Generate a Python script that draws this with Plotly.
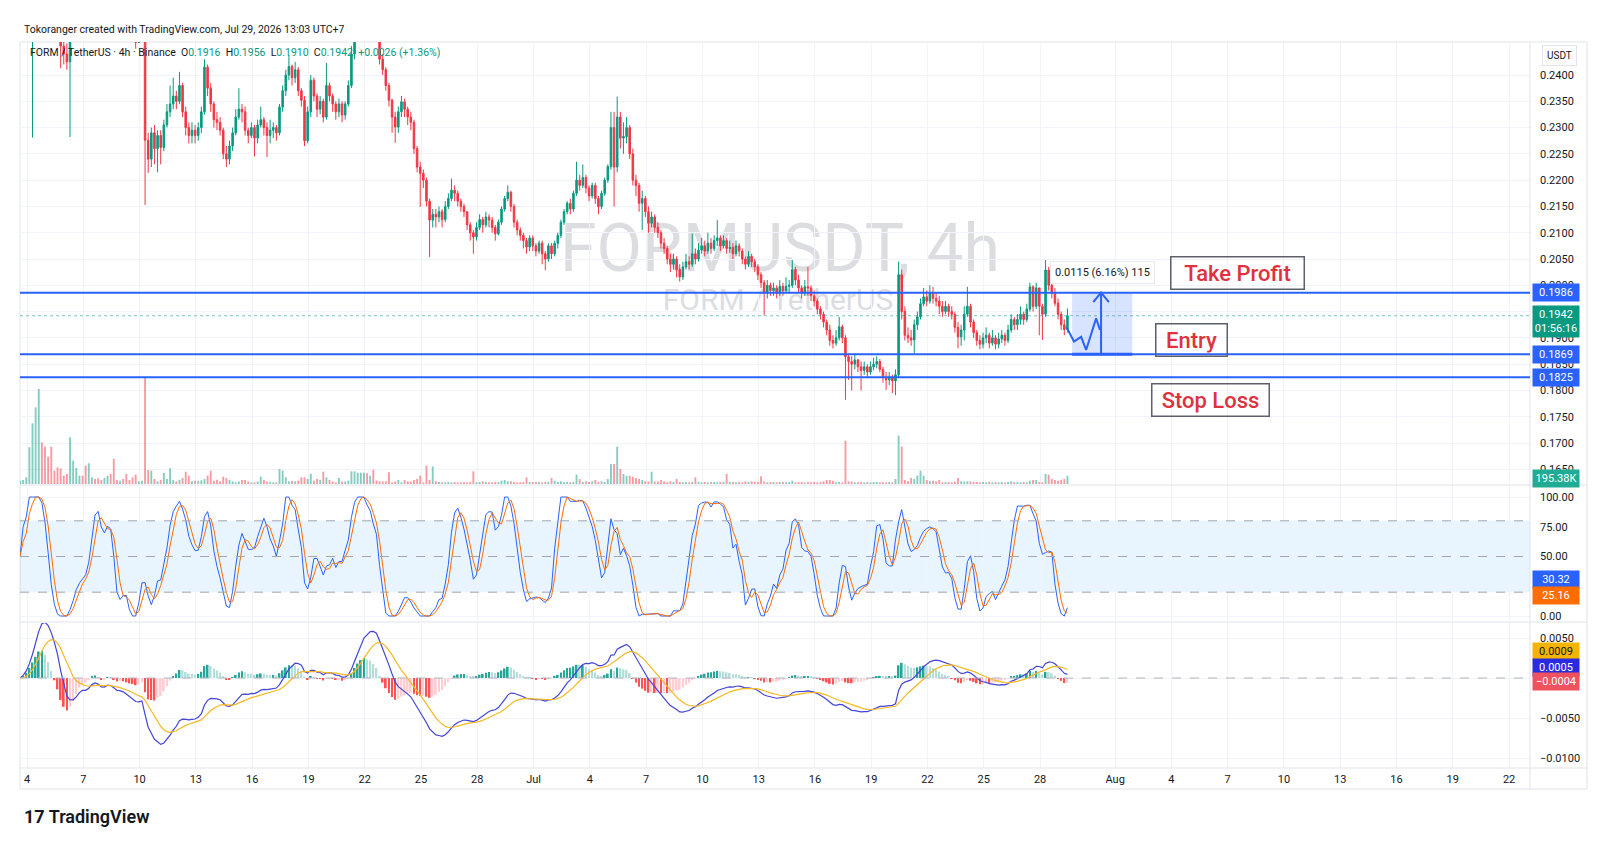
import numpy as np
import pandas as pd
import plotly.graph_objects as go
from plotly.subplots import make_subplots

# ---------------- data (FORM/USDT 4h, Binance) ----------------
first_time = "2026-06-03 15:00"
first_open = 0.2540

close = [
    0.2560, 0.2600, 0.2640, 0.2700, 0.2760, 0.2820, 0.2880, 0.2860, 0.2800, 0.2740,
    0.2680, 0.2620, 0.2560, 0.2455, 0.2440, 0.2425, 0.2510, 0.2550, 0.2590, 0.2620,
    0.2600, 0.2570, 0.2600, 0.2630, 0.2610, 0.2570, 0.2540, 0.2570, 0.2600, 0.2570,
    0.2540, 0.2520, 0.2550, 0.2530, 0.2510, 0.2495, 0.2490, 0.2462, 0.2490, 0.2505,
    0.2276, 0.2240, 0.2290, 0.2260, 0.2285, 0.2262, 0.2305, 0.2330, 0.2345, 0.2360,
    0.2350, 0.2380, 0.2330, 0.2300, 0.2285, 0.2295, 0.2285, 0.2300, 0.2330, 0.2415,
    0.2375, 0.2345, 0.2315, 0.2310, 0.2295, 0.2250, 0.2240, 0.2265, 0.2290, 0.2320,
    0.2335, 0.2330, 0.2295, 0.2285, 0.2300, 0.2280, 0.2305, 0.2315, 0.2300, 0.2285,
    0.2295, 0.2300, 0.2290, 0.2339, 0.2370, 0.2400, 0.2416, 0.2395, 0.2410, 0.2370,
    0.2352, 0.2275, 0.2330, 0.2390, 0.2360, 0.2335, 0.2350, 0.2320, 0.2380, 0.2360,
    0.2345, 0.2330, 0.2345, 0.2324, 0.2345, 0.2380, 0.2440, 0.2500, 0.2530, 0.2560,
    0.2580, 0.2550, 0.2570, 0.2540, 0.2520, 0.2430, 0.2410, 0.2380, 0.2352, 0.2320,
    0.2301, 0.2330, 0.2349, 0.2335, 0.2320, 0.2310, 0.2260, 0.2225, 0.2213, 0.2200,
    0.2160, 0.2124, 0.2135, 0.2130, 0.2140, 0.2125, 0.2150, 0.2165, 0.2181, 0.2175,
    0.2160, 0.2150, 0.2140, 0.2115, 0.2100, 0.2092, 0.2110, 0.2125, 0.2115, 0.2130,
    0.2124, 0.2110, 0.2098, 0.2120, 0.2145, 0.2165, 0.2177, 0.2150, 0.2120, 0.2105,
    0.2095, 0.2085, 0.2073, 0.2090, 0.2075, 0.2065, 0.2080, 0.2060, 0.2050, 0.2075,
    0.2060, 0.2080, 0.2095, 0.2120, 0.2140, 0.2156, 0.2145, 0.2175, 0.2200, 0.2190,
    0.2205, 0.2185, 0.2170, 0.2190, 0.2165, 0.2150, 0.2175, 0.2200, 0.2226, 0.2300,
    0.2225, 0.2320, 0.2280, 0.2283, 0.2300, 0.2250, 0.2200, 0.2190, 0.2156, 0.2165,
    0.2140, 0.2118, 0.2130, 0.2110, 0.2100, 0.2080, 0.2070, 0.2050, 0.2040, 0.2050,
    0.2030, 0.2016, 0.2035, 0.2045, 0.2040, 0.2060, 0.2050, 0.2067, 0.2075, 0.2065,
    0.2080, 0.2070, 0.2085, 0.2090, 0.2075, 0.2085, 0.2070, 0.2072, 0.2060, 0.2075,
    0.2065, 0.2050, 0.2040, 0.2055, 0.2045, 0.2035, 0.2020, 0.2005, 0.1985, 0.2000,
    0.1990, 0.1995, 0.1985, 0.1998, 0.1990, 0.1998, 0.2000, 0.2030, 0.2010, 0.1995,
    0.1985, 0.1997, 0.1995, 0.1980, 0.1970, 0.1955, 0.1945, 0.1930, 0.1915, 0.1895,
    0.1890, 0.1900, 0.1921, 0.1900, 0.1864, 0.1855, 0.1850, 0.1858, 0.1845, 0.1838,
    0.1845, 0.1835, 0.1845, 0.1850, 0.1855, 0.1840, 0.1825, 0.1820, 0.1825, 0.1818,
    0.1830, 0.2020, 0.1950, 0.1905, 0.1900, 0.1896, 0.1925, 0.1940, 0.1965, 0.1978,
    0.1970, 0.1985, 0.1975, 0.1970, 0.1960, 0.1950, 0.1960, 0.1950, 0.1945, 0.1920,
    0.1902, 0.1915, 0.1945, 0.1960, 0.1930, 0.1910, 0.1895, 0.1888, 0.1900, 0.1905,
    0.1890, 0.1900, 0.1888, 0.1898, 0.1905, 0.1895, 0.1915, 0.1935, 0.1925, 0.1935,
    0.1945, 0.1935, 0.1955, 0.1997, 0.1960, 0.1995, 0.1960, 0.1945, 0.2029, 0.2000,
    0.1985, 0.1966, 0.1945, 0.1925, 0.1916, 0.1942,
]

high = [
    0.2580, 0.2620, 0.2660, 0.2720, 0.2800, 0.2860, 0.2920, 0.2950, 0.2880, 0.2820,
    0.2760, 0.2700, 0.2640, 0.2570, 0.2470, 0.2460, 0.2530, 0.2570, 0.2610, 0.2650,
    0.2640, 0.2610, 0.2620, 0.2660, 0.2650, 0.2620, 0.2580, 0.2590, 0.2620, 0.2610,
    0.2580, 0.2560, 0.2570, 0.2560, 0.2540, 0.2530, 0.2520, 0.2495, 0.2500, 0.2520,
    0.2530, 0.2290, 0.2300, 0.2305, 0.2295, 0.2295, 0.2315, 0.2345, 0.2380, 0.2395,
    0.2370, 0.2406, 0.2385, 0.2340, 0.2310, 0.2310, 0.2305, 0.2310, 0.2340, 0.2430,
    0.2420, 0.2385, 0.2350, 0.2330, 0.2320, 0.2300, 0.2265, 0.2275, 0.2300, 0.2335,
    0.2375, 0.2345, 0.2340, 0.2300, 0.2310, 0.2305, 0.2315, 0.2340, 0.2320, 0.2310,
    0.2315, 0.2310, 0.2305, 0.2345, 0.2380, 0.2410, 0.2438, 0.2420, 0.2425, 0.2415,
    0.2375, 0.2360, 0.2340, 0.2400, 0.2395, 0.2365, 0.2360, 0.2355, 0.2423, 0.2385,
    0.2365, 0.2350, 0.2355, 0.2350, 0.2350, 0.2390, 0.2455, 0.2530, 0.2560, 0.2590,
    0.2610, 0.2585, 0.2590, 0.2575, 0.2545, 0.2520, 0.2440, 0.2415, 0.2385, 0.2355,
    0.2330, 0.2340, 0.2360, 0.2355, 0.2340, 0.2330, 0.2315, 0.2265, 0.2235, 0.2220,
    0.2205, 0.2165, 0.2145, 0.2145, 0.2150, 0.2145, 0.2160, 0.2175, 0.2203, 0.2190,
    0.2180, 0.2165, 0.2155, 0.2140, 0.2120, 0.2105, 0.2120, 0.2135, 0.2130, 0.2140,
    0.2135, 0.2130, 0.2115, 0.2125, 0.2150, 0.2170, 0.2190, 0.2180, 0.2155, 0.2125,
    0.2110, 0.2100, 0.2090, 0.2095, 0.2095, 0.2080, 0.2085, 0.2085, 0.2065, 0.2080,
    0.2080, 0.2085, 0.2100, 0.2125, 0.2145, 0.2160, 0.2165, 0.2180, 0.2235, 0.2210,
    0.2230, 0.2210, 0.2190, 0.2195, 0.2195, 0.2170, 0.2180, 0.2205, 0.2230, 0.2330,
    0.2330, 0.2359, 0.2330, 0.2310, 0.2320, 0.2305, 0.2260, 0.2210, 0.2195, 0.2180,
    0.2170, 0.2150, 0.2140, 0.2135, 0.2120, 0.2105, 0.2090, 0.2075, 0.2060, 0.2060,
    0.2055, 0.2040, 0.2045, 0.2060, 0.2055, 0.2098, 0.2070, 0.2080, 0.2090, 0.2085,
    0.2100, 0.2090, 0.2095, 0.2124, 0.2095, 0.2095, 0.2090, 0.2085, 0.2080, 0.2085,
    0.2080, 0.2070, 0.2055, 0.2065, 0.2060, 0.2050, 0.2040, 0.2025, 0.2010, 0.2010,
    0.2005, 0.2005, 0.2000, 0.2010, 0.2005, 0.2015, 0.2010, 0.2048, 0.2035, 0.2020,
    0.2000, 0.2010, 0.2035, 0.2000, 0.1990, 0.1975, 0.1960, 0.1950, 0.1935, 0.1925,
    0.1905, 0.1915, 0.1940, 0.1925, 0.1905, 0.1870, 0.1865, 0.1870, 0.1860, 0.1855,
    0.1855, 0.1850, 0.1855, 0.1862, 0.1865, 0.1860, 0.1845, 0.1835, 0.1835, 0.1830,
    0.1840, 0.2045, 0.2030, 0.1960, 0.1920, 0.1915, 0.1935, 0.1950, 0.1975, 0.1995,
    0.1990, 0.2000, 0.1997, 0.1985, 0.1980, 0.1970, 0.1970, 0.1965, 0.1960, 0.1950,
    0.1930, 0.1925, 0.1960, 0.1997, 0.1965, 0.1935, 0.1915, 0.1905, 0.1910, 0.1920,
    0.1910, 0.1915, 0.1905, 0.1910, 0.1915, 0.1910, 0.1925, 0.1945, 0.1940, 0.1945,
    0.1960, 0.1950, 0.1965, 0.2005, 0.2000, 0.2005, 0.1995, 0.1965, 0.2048, 0.2035,
    0.2010, 0.1995, 0.1975, 0.1950, 0.1935, 0.1956,
]

low = [
    0.2530, 0.2550, 0.2590, 0.2630, 0.2281, 0.2740, 0.2800, 0.2820, 0.2760, 0.2700,
    0.2640, 0.2580, 0.2520, 0.2413, 0.2420, 0.2410, 0.2282, 0.2490, 0.2530, 0.2570,
    0.2570, 0.2540, 0.2550, 0.2590, 0.2580, 0.2540, 0.2510, 0.2520, 0.2550, 0.2540,
    0.2500, 0.2490, 0.2500, 0.2500, 0.2480, 0.2475, 0.2470, 0.2450, 0.2468, 0.2475,
    0.2153, 0.2214, 0.2225, 0.2230, 0.2215, 0.2230, 0.2255, 0.2300, 0.2320, 0.2335,
    0.2335, 0.2345, 0.2320, 0.2285, 0.2270, 0.2270, 0.2270, 0.2275, 0.2290, 0.2325,
    0.2360, 0.2330, 0.2300, 0.2295, 0.2285, 0.2240, 0.2225, 0.2230, 0.2255, 0.2285,
    0.2315, 0.2310, 0.2285, 0.2270, 0.2280, 0.2245, 0.2270, 0.2300, 0.2285, 0.2244,
    0.2270, 0.2280, 0.2275, 0.2285, 0.2330, 0.2360, 0.2390, 0.2380, 0.2385, 0.2360,
    0.2340, 0.2265, 0.2270, 0.2320, 0.2350, 0.2320, 0.2325, 0.2310, 0.2315, 0.2350,
    0.2330, 0.2315, 0.2320, 0.2310, 0.2315, 0.2340, 0.2375, 0.2430, 0.2480, 0.2510,
    0.2530, 0.2520, 0.2530, 0.2510, 0.2490, 0.2420, 0.2400, 0.2370, 0.2340, 0.2290,
    0.2271, 0.2290, 0.2320, 0.2320, 0.2305, 0.2295, 0.2250, 0.2215, 0.2149, 0.2185,
    0.2150, 0.2054, 0.2110, 0.2110, 0.2120, 0.2110, 0.2120, 0.2145, 0.2160, 0.2160,
    0.2150, 0.2140, 0.2130, 0.2105, 0.2085, 0.2060, 0.2085, 0.2105, 0.2100, 0.2110,
    0.2110, 0.2100, 0.2085, 0.2095, 0.2115, 0.2140, 0.2160, 0.2140, 0.2110, 0.2095,
    0.2085, 0.2070, 0.2060, 0.2065, 0.2065, 0.2055, 0.2060, 0.2040, 0.2029, 0.2045,
    0.2050, 0.2055, 0.2070, 0.2090, 0.2115, 0.2135, 0.2135, 0.2140, 0.2170, 0.2180,
    0.2185, 0.2175, 0.2160, 0.2165, 0.2155, 0.2135, 0.2145, 0.2170, 0.2195, 0.2220,
    0.2150, 0.2215, 0.2260, 0.2250, 0.2270, 0.2240, 0.2190, 0.2170, 0.2140, 0.2105,
    0.2130, 0.2100, 0.2110, 0.2100, 0.2090, 0.2070, 0.2060, 0.2040, 0.2025, 0.2030,
    0.2015, 0.2007, 0.2010, 0.2030, 0.2030, 0.2035, 0.2040, 0.2045, 0.2060, 0.2055,
    0.2060, 0.2060, 0.2065, 0.2075, 0.2065, 0.2070, 0.2060, 0.2062, 0.2050, 0.2055,
    0.2055, 0.2040, 0.2030, 0.2035, 0.2035, 0.2025, 0.2010, 0.1995, 0.1943, 0.1975,
    0.1980, 0.1980, 0.1975, 0.1980, 0.1980, 0.1985, 0.1985, 0.1995, 0.2000, 0.1985,
    0.1975, 0.1980, 0.1980, 0.1970, 0.1960, 0.1945, 0.1935, 0.1920, 0.1905, 0.1885,
    0.1880, 0.1885, 0.1895, 0.1890, 0.1782, 0.1820, 0.1800, 0.1840, 0.1835, 0.1800,
    0.1830, 0.1825, 0.1830, 0.1838, 0.1842, 0.1835, 0.1815, 0.1801, 0.1810, 0.1795,
    0.1791, 0.1825, 0.1935, 0.1895, 0.1890, 0.1885, 0.1870, 0.1915, 0.1935, 0.1960,
    0.1960, 0.1965, 0.1965, 0.1960, 0.1945, 0.1940, 0.1945, 0.1940, 0.1935, 0.1910,
    0.1880, 0.1885, 0.1895, 0.1940, 0.1920, 0.1900, 0.1885, 0.1878, 0.1880, 0.1890,
    0.1880, 0.1885, 0.1878, 0.1880, 0.1890, 0.1885, 0.1890, 0.1910, 0.1915, 0.1915,
    0.1925, 0.1925, 0.1930, 0.1950, 0.1950, 0.1955, 0.1905, 0.1896, 0.1940, 0.1990,
    0.1975, 0.1960, 0.1935, 0.1915, 0.1905, 0.1910,
]

volume_k = [
    80, 96, 160, 880, 1456, 1840, 2280, 1000, 896, 656,
    896, 320, 400, 376, 200, 240, 1120, 560, 384, 200,
    200, 440, 496, 160, 120, 136, 96, 144, 200, 240,
    600, 96, 80, 120, 240, 96, 160, 224, 64, 80,
    2544, 336, 320, 120, 64, 100, 264, 120, 376, 96,
    64, 100, 144, 296, 200, 64, 80, 80, 90, 120,
    200, 320, 80, 100, 64, 176, 144, 100, 64, 40,
    60, 96, 96, 60, 40, 40, 60, 176, 96, 60,
    50, 40, 40, 360, 320, 160, 64, 80, 64, 80,
    160, 160, 120, 240, 80, 120, 100, 296, 160, 96,
    60, 40, 144, 60, 60, 80, 304, 304, 272, 272,
    272, 256, 200, 344, 80, 64, 64, 64, 280, 40,
    60, 96, 40, 96, 64, 60, 96, 120, 200, 40,
    440, 100, 424, 64, 50, 40, 40, 50, 40, 50,
    40, 40, 40, 40, 50, 304, 40, 50, 64, 50,
    40, 40, 50, 50, 80, 96, 64, 64, 50, 40,
    40, 50, 160, 50, 50, 50, 50, 40, 50, 50,
    144, 80, 50, 64, 40, 50, 40, 50, 224, 120,
    50, 64, 50, 64, 96, 50, 64, 50, 120, 480,
    480, 896, 360, 240, 200, 200, 176, 144, 120, 96,
    64, 60, 296, 60, 64, 96, 64, 50, 64, 50,
    120, 50, 40, 50, 40, 50, 160, 50, 40, 50,
    40, 50, 50, 40, 50, 50, 240, 50, 50, 40,
    50, 40, 64, 50, 64, 50, 50, 184, 60, 40,
    50, 50, 40, 50, 50, 40, 50, 80, 40, 50,
    50, 40, 50, 40, 50, 40, 50, 64, 96, 96,
    80, 40, 50, 40, 1040, 64, 60, 40, 40, 50,
    40, 50, 40, 50, 50, 40, 50, 40, 50, 40,
    120, 1160, 896, 96, 64, 144, 120, 200, 320, 200,
    96, 70, 80, 64, 96, 40, 50, 50, 40, 60,
    144, 64, 60, 64, 64, 50, 50, 40, 50, 40,
    50, 40, 50, 40, 50, 40, 50, 64, 50, 50,
    40, 50, 40, 80, 96, 96, 50, 40, 240, 224,
    120, 96, 80, 100, 120, 195.38,
]

# trade-plan drawings
tp_price, entry_price, sl_price = 0.1986, 0.1869, 0.1825
countdown = "01:56:16"
box_times = ["2026-07-29 17:00", "2026-08-01 22:00"]
path_times = ["2026-07-29 10:00", "2026-07-29 19:20", "2026-07-30 04:30",
              "2026-07-30 10:55", "2026-07-30 23:40", "2026-07-31 04:40"]
path_prices = [0.1920, 0.1893, 0.1902, 0.1877, 0.1937, 0.1915]
arrow_time = "2026-07-31 06:00"
arrow_head_half_hours = 10
arrow_head_drop = 0.0018
range_label = "0.0115 (6.16%) 115"
note_texts = ["Take Profit", "Entry", "Stop Loss"]
note_times = ["2026-08-07 12:00", "2026-08-05 01:10", "2026-08-06 01:40"]
note_prices = [0.20243, 0.18959, 0.17827]
note_widths = [126, 64, 110]

# indicator settings and readouts shown on the scales
stoch_len, rsi_len, k_smooth, d_smooth = 14, 14, 3, 3
stoch_last = [30.32, 25.16]
macd_last = [0.0009, 0.0005, -0.0004]   # signal, macd, histogram

# axes
x_range = ["2026-06-03 15:00", "2026-08-23 02:45"]
tick_dates = ["2026-06-04", "2026-06-07", "2026-06-10", "2026-06-13", "2026-06-16",
              "2026-06-19", "2026-06-22", "2026-06-25", "2026-06-28", "2026-07-01",
              "2026-07-04", "2026-07-07", "2026-07-10", "2026-07-13", "2026-07-16",
              "2026-07-19", "2026-07-22", "2026-07-25", "2026-07-28", "2026-08-01",
              "2026-08-04", "2026-08-07", "2026-08-10", "2026-08-13", "2026-08-16",
              "2026-08-19", "2026-08-22"]
tick_labels = ["4", "7", "10", "13", "16", "19", "22", "25", "28", "Jul",
               "4", "7", "10", "13", "16", "19", "22", "25", "28", "Aug",
               "4", "7", "10", "13", "16", "19", "22"]
price_ticks = [0.1650, 0.1700, 0.1750, 0.1800, 0.1850, 0.1900, 0.1950, 0.2000,
               0.2050, 0.2100, 0.2150, 0.2200, 0.2250, 0.2300, 0.2350, 0.2400]
price_range = [0.16220, 0.24628]
vol_range = [0, 10608]
stoch_ticks = [0, 25, 50, 75, 100]
stoch_tick_text = ["0.00", "", "50.00", "75.00", "100.00"]   # 25.00 sits under the value tags
stoch_range = [-4.2, 109.24]
macd_ticks = [-0.0100, -0.0050, 0.0, 0.0050]
macd_tick_text = ["\u22120.0100", "\u22120.0050", "", "0.0050"]  # 0.0000 sits under the tags
macd_range = [-0.01125, 0.006875]

# ---------------- derived series ----------------
n = len(close)
times = pd.date_range(first_time, periods=n, freq="4h")
opens = [first_open] + close[:-1]
highs = [max(h, o, c) for h, o, c in zip(high, opens, close)]
lows = [min(l, o, c) for l, o, c in zip(low, opens, close)]

GREEN, RED = "#089981", "#F23645"
vol_colors = ["rgba(8,153,129,0.5)" if c >= o else "rgba(242,54,69,0.5)"
              for o, c in zip(opens, close)]

cs = pd.Series(close)
delta = cs.diff().fillna(0)
up = delta.clip(lower=0).ewm(alpha=1 / rsi_len, adjust=False).mean()
dn = (-delta.clip(upper=0)).ewm(alpha=1 / rsi_len, adjust=False).mean()
tot = up + dn
rsi = (100 * up / tot.replace(0, np.nan)).fillna(50)
rmin = rsi.rolling(stoch_len, min_periods=1).min()
rmax = rsi.rolling(stoch_len, min_periods=1).max()
srsi = (100 * (rsi - rmin) / (rmax - rmin).replace(0, np.nan)).fillna(50)
k_line = srsi.rolling(k_smooth, min_periods=1).mean()
d_line = k_line.rolling(d_smooth, min_periods=1).mean()

ema12 = cs.ewm(span=12, adjust=False).mean()
ema26 = cs.ewm(span=26, adjust=False).mean()
macd = ema12 - ema26
signal = macd.ewm(span=9, adjust=False).mean()
hist = macd - signal
hist_colors = []
prev = 0.0
for h in hist:
    if h >= 0:
        hist_colors.append("#26A69A" if h > prev else "#B2DFDB")
    else:
        hist_colors.append("#FF5252" if h < prev else "#FFCDD2")
    prev = h

# ---------------- figure ----------------
fig = make_subplots(rows=3, cols=1, shared_xaxes=True, vertical_spacing=0,
                    specs=[[{"secondary_y": True}], [{}], [{}]])

bar_w = 4 * 3600 * 1000 * 0.6
fig.add_trace(go.Bar(x=times, y=volume_k, width=bar_w,
                     marker=dict(color=vol_colors, line=dict(width=0)),
                     hoverinfo="skip"), row=1, col=1, secondary_y=False)
fig.add_trace(go.Candlestick(x=times, open=opens, high=highs, low=lows, close=close,
                             whiskerwidth=0,
                             increasing=dict(line=dict(color=GREEN, width=1), fillcolor=GREEN),
                             decreasing=dict(line=dict(color=RED, width=1), fillcolor=RED),
                             hoverinfo="skip"), row=1, col=1, secondary_y=True)

# projected path and arrow
fig.add_trace(go.Scatter(x=pd.to_datetime(path_times), y=path_prices, mode="lines",
                         line=dict(color="#2962FF", width=2), hoverinfo="skip"),
              row=1, col=1, secondary_y=True)
at = pd.Timestamp(arrow_time)
dh = pd.Timedelta(hours=arrow_head_half_hours)
fig.add_trace(go.Scatter(x=[at, at, None, at - dh, at, at + dh],
                         y=[entry_price, tp_price, None, tp_price - arrow_head_drop,
                            tp_price, tp_price - arrow_head_drop],
                         mode="lines", line=dict(color="#2962FF", width=2),
                         hoverinfo="skip"), row=1, col=1, secondary_y=True)

fig.add_trace(go.Scatter(x=times, y=k_line, mode="lines",
                         line=dict(color="#2962FF", width=1), hoverinfo="skip"), row=2, col=1)
fig.add_trace(go.Scatter(x=times, y=d_line, mode="lines",
                         line=dict(color="#FF6D00", width=1), hoverinfo="skip"), row=2, col=1)

fig.add_trace(go.Bar(x=times, y=hist, width=4 * 3600 * 1000 * 0.55,
                     marker=dict(color=hist_colors, line=dict(width=0)),
                     hoverinfo="skip"), row=3, col=1)
fig.add_trace(go.Scatter(x=times, y=macd, mode="lines",
                         line=dict(color="#4444D8", width=1.2), hoverinfo="skip"), row=3, col=1)
fig.add_trace(go.Scatter(x=times, y=signal, mode="lines",
                         line=dict(color="#F5B820", width=1.2), hoverinfo="skip"), row=3, col=1)

FONT = "Roboto"
TXT = "#131722"
GRID = "#F0F3FA"

fig.update_xaxes(domain=[0, 1], range=x_range, tickvals=tick_dates, ticktext=tick_labels,
                 showgrid=True, gridcolor=GRID, gridwidth=1, zeroline=False,
                 showline=False, ticks="", rangeslider_visible=False,
                 tickfont=dict(family=FONT, size=11, color=TXT))

# pixel layout helpers (plot area: x 20..1530, y 42..768)
H_TOP, H_BOT = 42, 768
def fy(py):
    return (H_BOT - py) / (H_BOT - H_TOP)
def fx(px):
    return (px - 20) / 1510

fig.update_layout(
    width=1600, height=841,
    margin=dict(l=20, r=70, t=42, b=73),
    paper_bgcolor="white", plot_bgcolor="rgba(0,0,0,0)",
    showlegend=False, hovermode=False, barmode="overlay",
    font=dict(family=FONT, size=11, color=TXT),
    yaxis=dict(domain=[fy(484), 1], range=vol_range, visible=False, showgrid=False),
    yaxis2=dict(domain=[fy(484), 1], range=price_range, side="right",
                tickvals=price_ticks, tickformat=".4f", showgrid=True, gridcolor=GRID,
                zeroline=False, ticks="", ticklabelstandoff=9,
                tickfont=dict(family=FONT, size=11, color=TXT)),
    yaxis3=dict(domain=[fy(621), fy(486)], range=stoch_range, side="right",
                tickvals=stoch_ticks, ticktext=stoch_tick_text, showgrid=True, gridcolor=GRID,
                zeroline=False, ticks="", ticklabelstandoff=9,
                tickfont=dict(family=FONT, size=11, color=TXT)),
    yaxis4=dict(domain=[0, fy(623)], range=macd_range, side="right",
                tickvals=macd_ticks, ticktext=macd_tick_text, showgrid=True, gridcolor=GRID,
                zeroline=False, ticks="", ticklabelstandoff=9,
                tickfont=dict(family=FONT, size=11, color=TXT)),
    xaxis3=dict(ticklabelstandoff=3),
)

shapes = []
# frame and pane separators
SEP = "#E0E3EB"
shapes.append(dict(type="rect", xref="paper", yref="paper", x0=0, x1=fx(1587),
                   y0=fy(789), y1=1, line=dict(color=SEP, width=1), layer="below"))
for py in (485, 622, 768):
    shapes.append(dict(type="line", xref="paper", yref="paper", x0=0, x1=fx(1587),
                       y0=fy(py), y1=fy(py), line=dict(color=SEP, width=1)))
shapes.append(dict(type="line", xref="paper", yref="paper", x0=1, x1=1,
                   y0=fy(789), y1=1, line=dict(color=SEP, width=1)))
# watermark
shapes.append(dict(type="rect", xref="paper", yref="paper", x0=fx(560), x1=fx(1000),
                   y0=fy(275), y1=fy(211), line=dict(width=0), fillcolor="rgba(0,0,0,0)",
                   layer="below",
                   label=dict(text="FORMUSDT, 4h", textposition="middle center",
                              font=dict(family=FONT, size=66, color="#DCDDE1"))))
shapes.append(dict(type="rect", xref="paper", yref="paper", x0=fx(640), x1=fx(916),
                   y0=fy(316), y1=fy(278), line=dict(width=0), fillcolor="rgba(0,0,0,0)",
                   layer="below",
                   label=dict(text="FORM / TetherUS", textposition="middle center",
                              font=dict(family=FONT, size=30, color="#DCDDE1"))))
# stoch band
shapes.append(dict(type="rect", xref="paper", yref="y3", x0=0, x1=1, y0=20, y1=80,
                   fillcolor="rgba(33,150,243,0.10)", line=dict(width=0), layer="below"))
for lv in (80, 50, 20):
    shapes.append(dict(type="line", xref="paper", yref="y3", x0=0, x1=1, y0=lv, y1=lv,
                       line=dict(color="#A3A6AF", width=1, dash="dash")))
# macd zero line
shapes.append(dict(type="line", xref="paper", yref="y4", x0=0, x1=1, y0=0, y1=0,
                   line=dict(color="#B2B5BE", width=1, dash="dash")))
# long position box
shapes.append(dict(type="rect", xref="x", yref="y2", x0=box_times[0], x1=box_times[1],
                   y0=entry_price, y1=tp_price, fillcolor="rgba(41,98,255,0.18)",
                   line=dict(width=0)))
# last price dotted line
shapes.append(dict(type="line", xref="paper", yref="y2", x0=0, x1=1,
                   y0=close[-1], y1=close[-1],
                   line=dict(color="rgba(8,153,129,0.55)", width=1, dash="dot")))
# TP / entry / SL lines
for p in (tp_price, entry_price, sl_price):
    shapes.append(dict(type="line", xref="paper", yref="y2", x0=0, x1=1, y0=p, y1=p,
                       line=dict(color="#2962FF", width=2)))
shapes.append(dict(type="line", xref="x", yref="y2", x0=box_times[0], x1=box_times[1],
                   y0=entry_price, y1=entry_price, line=dict(color="#2962FF", width=3)))
fig.update_layout(shapes=shapes)

ann = []
ann.append(dict(xref="paper", yref="paper", x=fx(22), y=fy(29), xanchor="left",
                yanchor="middle", showarrow=False,
                text="Tokoranger created with TradingView.com, Jul 29, 2026 13:03 UTC+7",
                font=dict(family=FONT, size=10.5, color=TXT)))
o_l, h_l, l_l, c_l = opens[-1], highs[-1], lows[-1], close[-1]
chg = c_l - close[-2]
G = "<span style='color:#089981'>"
legend_txt = ("FORM / TetherUS · 4h · Binance&nbsp; "
              f"O{G}{o_l:.4f}</span>&nbsp; H{G}{h_l:.4f}</span>&nbsp; "
              f"L{G}{l_l:.4f}</span>&nbsp; C{G}{c_l:.4f}</span>&nbsp; "
              f"{G}+{chg:.4f} (+{100 * chg / close[-2]:.2f}%)</span>")
ann.append(dict(xref="paper", yref="paper", x=fx(28), y=fy(53), xanchor="left",
                yanchor="middle", showarrow=False, text=legend_txt,
                font=dict(family=FONT, size=10.5, color=TXT)))
# USDT box
ann.append(dict(xref="paper", yref="paper", x=fx(1559), y=fy(56), xanchor="center",
                yanchor="middle", showarrow=False,
                text="USDT", font=dict(family=FONT, size=10, color=TXT),
                bgcolor="white", bordercolor=SEP, borderwidth=1, borderpad=4))

def tag(text, yref, y, bg, fg="white", yshift=0):
    return dict(xref="paper", x=fx(1532), xanchor="left", yref=yref, y=y,
                yanchor="middle", yshift=yshift, showarrow=False, text=text,
                bgcolor=bg, font=dict(family=FONT, size=11, color=fg),
                borderpad=2, width=42, align="center")

ann.append(tag(f"{tp_price:.4f}", "y2", tp_price, "#2962FF"))
ann.append(tag(f"{entry_price:.4f}", "y2", entry_price, "#2962FF"))
ann.append(tag(f"{sl_price:.4f}", "y2", sl_price, "#2962FF"))
ann.append(tag(f"{close[-1]:.4f}<br>{countdown}", "y2", close[-1], "#089981", yshift=-6))
ann.append(tag(f"{volume_k[-1]:.2f}K", "paper", fy(478), "#22AB94"))
ann.append(tag(f"{stoch_last[0]:.2f}", "y3", stoch_last[0], "#2962FF"))
ann.append(tag(f"{stoch_last[1]:.2f}", "y3", stoch_last[1], "#FF6D00", yshift=-9))
ann.append(tag(f"{macd_last[0]:.4f}", "y4", macd_last[0], "#F5B400", fg=TXT, yshift=19))
ann.append(tag(f"{macd_last[1]:.4f}", "y4", macd_last[1], "#2A2AE0", yshift=7))
ann.append(tag("\u2212" + f"{abs(macd_last[2]):.4f}", "y4", macd_last[2], "#F05260"))

# range measurement label
mid_t = pd.Timestamp(box_times[0]) + (pd.Timestamp(box_times[1]) - pd.Timestamp(box_times[0])) / 2
ann.append(dict(xref="x", yref="y2", x=mid_t, y=tp_price, yanchor="bottom", yshift=9,
                showarrow=False, text=range_label, bgcolor="white",
                bordercolor="#E6E8EE", borderwidth=1, borderpad=4,
                font=dict(family=FONT, size=11, color=TXT)))
# trade notes
for t, x, y, w in zip(note_texts, note_times, note_prices, note_widths):
    ann.append(dict(xref="x", yref="y2", x=x, y=y, showarrow=False, text=t,
                    font=dict(family=FONT, size=22, color="#E0313F", weight=500),
                    bordercolor="#5D606B", borderwidth=1.5, borderpad=3, width=w,
                    bgcolor="rgba(255,255,255,0)"))
# logo
ann.append(dict(xref="paper", yref="paper", x=fx(22), y=fy(816), xanchor="left",
                yanchor="middle", showarrow=False,
                text="<b>17</b> TradingView",
                font=dict(family=FONT, size=18, color="#131722", weight=600)))
fig.update_layout(annotations=ann)

fig.write_html("out.html", config={"displayModeBar": False},
               post_script="document.body.style.margin='0';")
